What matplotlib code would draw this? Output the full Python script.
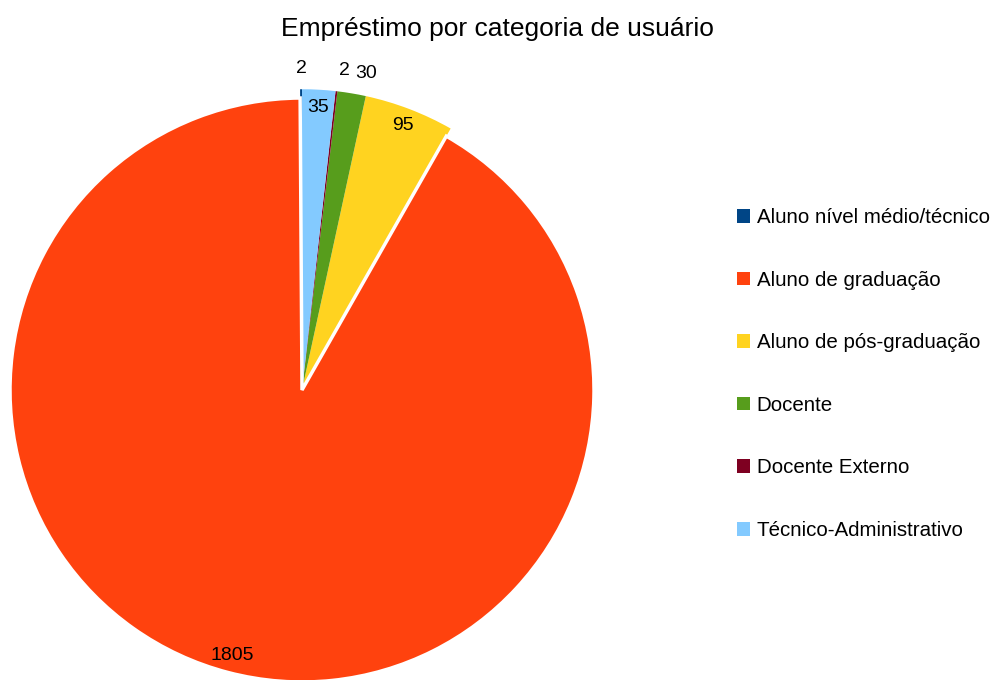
import numpy as np
import matplotlib.pyplot as plt
from matplotlib.patches import Patch

plt.rcParams['font.family'] = ['Liberation Sans', 'DejaVu Sans']

categorias = ["Aluno nível médio/técnico", "Aluno de graduação", "Aluno de pós-graduação",
              "Docente", "Docente Externo", "Técnico-Administrativo"]
valores = [2, 1805, 95, 30, 2, 35]
cores = ["#004586", "#ff420e", "#ffd320", "#579d1c", "#7e0021", "#83caff"]
titulo = "Empréstimo por categoria de usuário"

fig = plt.figure(figsize=(9.94, 6.8), dpi=100)
# eixo do pizza: centro ~ (302, 390) px, raio ~292 px
ax = fig.add_axes([10 / 994, -2 / 680, 584 / 994, 584 / 680])
wedges, _ = ax.pie(valores, colors=cores, startangle=90, counterclock=True,
                   radius=1, wedgeprops=dict(linewidth=0))
ax.set_xlim(-1, 1)
ax.set_ylim(-1, 1)
ax.set_aspect("equal")
ax.axis("off")
for w, v in zip(wedges, valores):
    w.set_clip_on(False)
    if v > 1000:
        # fatia grande com borda branca separando o grupo pequeno
        w.set_edgecolor("white")
        w.set_linewidth(2.5)
        w.set_zorder(3)
    else:
        w.set_radius(1.03)

# rotulos: dentro para fatias maiores, fora para as pequenas
for w, v in zip(wedges, valores):
    ang = np.deg2rad((w.theta1 + w.theta2) / 2)
    if v <= 30:
        r = 1.1
        x, y = r * np.cos(ang), r * np.sin(ang)
        ha = "center" if abs(x) < 0.02 else ("left" if x > 0 else "right")
    else:
        r = 0.94 if v > 1000 else 0.97
        x, y = r * np.cos(ang), r * np.sin(ang)
        ha = "center"
    ax.text(x, y, str(v), ha=ha, va="center", fontsize=14, color="black", zorder=5)

fig.text(0.5, 0.958, titulo, ha="center", va="center", fontsize=19)

handles = [Patch(facecolor=c, edgecolor="none") for c in cores]
fig.legend(handles, categorias, loc="center left", bbox_to_anchor=(737 / 994, 0.45),
           frameon=False, fontsize=14.8, handlelength=0.65, handleheight=0.65,
           handletextpad=0.3, labelspacing=2.12, borderpad=0, borderaxespad=0)

fig.savefig("out.png", dpi=100)
